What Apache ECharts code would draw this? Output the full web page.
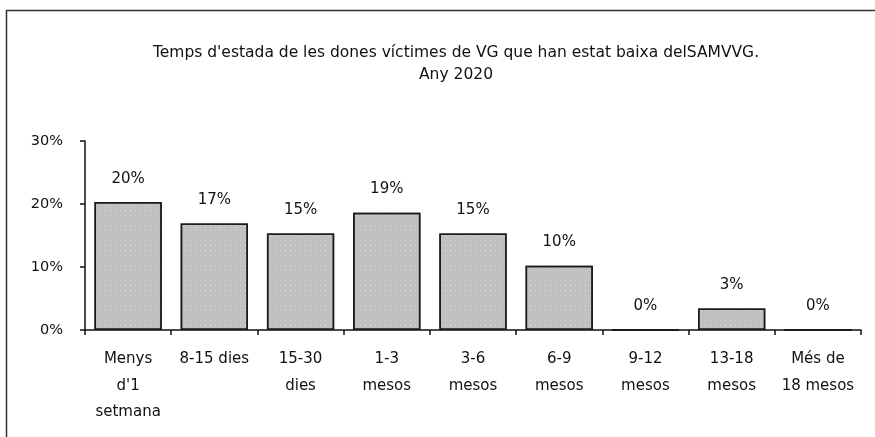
<!DOCTYPE html>
<html><head><meta charset="utf-8">
<script src="https://cdn.jsdelivr.net/npm/echarts@6/dist/echarts.min.js"></script>
<style>html,body{margin:0;padding:0;background:#fff}#c{width:875px;height:437px}</style>
</head><body><div id="c"></div>
<script>
var titleText = "Temps d'estada de les dones víctimes de VG que han estat baixa delSAMVVG.\nAny 2020";
var categories = ["Menys\nd'1\nsetmana", "8-15 dies", "15-30\ndies", "1-3\nmesos", "3-6\nmesos", "6-9\nmesos", "9-12\nmesos", "13-18\nmesos", "Més de\n18 mesos"];
var values = [20.3, 16.9, 15.3, 18.6, 15.3, 10.2, 0, 3.4, 0];
var yTicks = [0, 10, 20, 30];

var chart = echarts.init(document.getElementById('c'));
chart.setOption({
  animation: false,
  backgroundColor: '#fff',
  graphic: [{
    type: 'rect', shape: {x: 6.5, y: 10.5, width: 900, height: 500},
    style: {fill: 'none', stroke: '#333', lineWidth: 1.5}
  }],
  title: {
    text: titleText, left: 451, textAlign: 'center', top: 37,
    textStyle: {fontFamily: 'DejaVu Sans, Verdana, sans-serif', fontSize: 15.5, fontWeight: 'normal', color: '#111', lineHeight: 22}
  },
  grid: {left: 85, right: 14, top: 141, bottom: 107, containLabel: false},
  xAxis: {
    type: 'category', data: categories,
    axisLine: {lineStyle: {color: '#111', width: 1.5}},
    axisTick: {show: true, length: 5, lineStyle: {color: '#111', width: 1.5}, alignWithLabel: false},
    axisLabel: {interval: 0, color: '#111', fontFamily: 'DejaVu Sans, Verdana, sans-serif', fontSize: 15, lineHeight: 26.5, margin: 16}
  },
  yAxis: {
    type: 'value', min: yTicks[0], max: yTicks[yTicks.length - 1], interval: 10,
    splitLine: {show: false},
    axisLine: {show: true, lineStyle: {color: '#111', width: 1.5}},
    axisTick: {show: true, length: 5, lineStyle: {color: '#111', width: 1.5}},
    axisLabel: {color: '#111', fontFamily: 'DejaVu Sans, Verdana, sans-serif', fontSize: 14.5, margin: 22, formatter: function (v) { return v + '%'; }}
  },
  series: [{
    type: 'bar', data: values, barCategoryGap: '22%',
    itemStyle: {
      color: '#c0c0c0', borderColor: '#1a1a1a', borderWidth: 1.5,
      decal: {symbol: 'rect', symbolSize: 1, color: 'rgba(255,255,255,0.35)', dashArrayX: [1, 4], dashArrayY: [1, 4], rotation: 0}
    },
    label: {
      show: true, position: 'top', distance: 16, color: '#111',
      fontFamily: 'DejaVu Sans, Verdana, sans-serif', fontSize: 15,
      formatter: function (p) { return Math.round(p.value) + '%'; }
    }
  }]
});
</script></body></html>
